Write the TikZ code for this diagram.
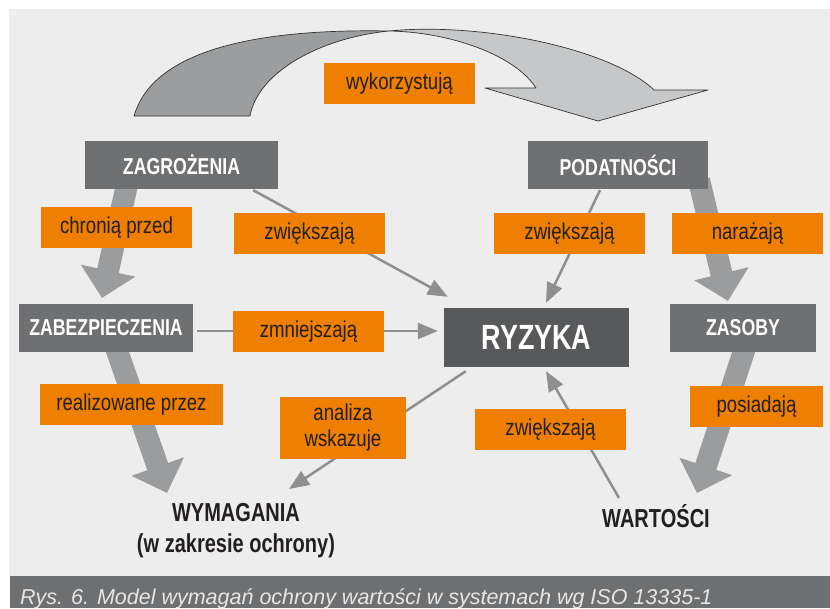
\documentclass[tikz,border=0pt]{standalone}
\usepackage{fontspec}
\setmainfont{Liberation Sans}
\newfontfamily\labelfont{Liberation Sans}[FakeStretch=0.81]
\newfontfamily\boxfont{Liberation Sans}[FakeStretch=0.77]
\usetikzlibrary{arrows.meta}
\definecolor{panel}{HTML}{ECEDEC}
\definecolor{capbar}{HTML}{6E6F71}
\definecolor{captext}{HTML}{E6E6E6}
\definecolor{boxgray}{HTML}{6F7072}
\definecolor{riskgray}{HTML}{58595B}
\definecolor{orangelbl}{HTML}{EE7F00}
\definecolor{darkband}{HTML}{9C9D9F}
\definecolor{lightband}{HTML}{C6C7C8}
\definecolor{thickgray}{HTML}{9B9C9E}
\definecolor{thingray}{HTML}{8E8F91}
\definecolor{ink}{HTML}{231F20}
\tikzset{
  entity/.style={fill=boxgray, text=white, inner sep=0pt,
    font=\boxfont\bfseries\fontsize{23}{28}\selectfont},
  verb/.style={fill=orangelbl, text=ink, inner sep=0pt, align=center,
    minimum height=41pt, font=\labelfont\fontsize{23}{26}\selectfont},
  plain/.style={text=ink, inner sep=0pt, align=center,
    font=\boxfont\bfseries\fontsize{26}{31}\selectfont},
  thickarrow/.style={draw=thickgray, line width=22pt,
    -{Triangle[length=28pt,width=54pt]}},
  thinarrow/.style={draw=thingray, line width=2.5pt,
    -{Triangle[length=20pt,width=16pt]}},
  band/.style={draw=black!80, line width=0.7pt, line join=round}
}
\begin{document}
\begin{tikzpicture}[x=1pt,y=-1pt]
\useasboundingbox (0,0) rectangle (830,608);
\fill[white] (0,0) rectangle (830,608);
\fill[panel] (9,9) rectangle (830,576);

% curved "wykorzystuja" arrow: dark rising half, light falling half with head
\filldraw[band, fill=darkband]
  (134,116) .. controls (150,60) and (230,28) .. (389,31)
  .. controls (320,38) and (258,72) .. (250,116) -- cycle;
\filldraw[band, fill=lightband]
  (389,31) .. controls (480,22) and (610,48) .. (654,90)
  -- (708,90) -- (598,121) -- (485,88) -- (536,88)
  .. controls (515,55) and (450,32) .. (389,31) -- cycle;

% nodes
\node[entity, minimum width=193pt, minimum height=48pt] (zag) at (181.5,165) {ZAGROŻENIA};
\node[entity, minimum width=180pt, minimum height=48pt] (pod) at (618,165) {PODATNOŚCI};
\node[entity, minimum width=174pt, minimum height=48pt] (zab) at (106,328) {ZABEZPIECZENIA};
\node[entity, fill=riskgray, minimum width=185pt, minimum height=59pt,
      font=\boxfont\bfseries\fontsize{35}{40}\selectfont] (ryz) at (536.5,337.5) {RYZYKA};
\node[entity, minimum width=146pt, minimum height=48pt] (zas) at (743,328) {ZASOBY};
\node[plain] (wym) at (236,531) {WYMAGANIA\\(w zakresie ochrony)};
\node[plain, anchor=base] (war) at (656,527) {WARTOŚCI};

% connector end points
\coordinate (zagout) at (128,180);
\coordinate (zabin) at (102,298);
\coordinate (zabout) at (115,345);
\coordinate (wymin) at (167,493);
\coordinate (podout) at (699,180);
\coordinate (zasin) at (728,301);
\coordinate (zasout) at (746,345);
\coordinate (warin) at (697,493);
\coordinate (wymtip) at (289,489);
\coordinate (warout) at (619,498);

% thick flows
\draw[thickarrow] (zagout) -- (zabin);
\draw[thickarrow] (zabout) -- (wymin);
\draw[thickarrow] (podout) -- (zasin);
\draw[thickarrow] (zasout) -- (warin);

% thin influences
\draw[thinarrow] ([xshift=-25pt,yshift=-1pt]zag.south east) -- ([xshift=4pt,yshift=11pt]ryz.north west);
\draw[thinarrow] ([xshift=-18pt,yshift=-1pt]pod.south) -- ([xshift=9.5pt,yshift=5pt]ryz.north);
\draw[thinarrow] ([xshift=4pt,yshift=-3pt]zab.east) -- ([xshift=-6pt,yshift=6.5pt]ryz.west);
\draw[thinarrow] ([xshift=22pt,yshift=-4pt]ryz.south west) -- (wymtip);
\draw[thinarrow] (warout) -- ([xshift=9.5pt,yshift=-4pt]ryz.south);

% boxes drawn again above the flows
\node[entity, minimum width=193pt, minimum height=48pt] at (zag) {ZAGROŻENIA};
\node[entity, minimum width=180pt, minimum height=48pt] at (pod) {PODATNOŚCI};
\node[entity, minimum width=174pt, minimum height=48pt] at (zab) {ZABEZPIECZENIA};
\node[entity, minimum width=146pt, minimum height=48pt] at (zas) {ZASOBY};

% relation labels
\node[verb, minimum width=151pt] (l1) at (399.5,83.5) {wykorzystują};
\node[verb, minimum width=151pt] (l2) at (116.5,227.5) {chronią przed};
\node[verb, minimum width=151pt] (l3) at (309.5,233.5) {zwiększają};
\node[verb, minimum width=151pt] (l4) at (569.5,233.5) {zwiększają};
\node[verb, minimum width=151pt] (l5) at (747.5,233.5) {narażają};
\node[verb, minimum width=151pt] (l6) at (308.5,331.5) {zmniejszają};
\node[verb, minimum width=183pt] (l7) at (131.5,404.5) {realizowane przez};
\node[verb, minimum width=126pt, minimum height=62pt] (l8) at (343,428) {analiza\\wskazuje};
\node[verb, minimum width=151pt] (l9) at (550.5,429.5) {zwiększają};
\node[verb, minimum width=133pt] (l10) at (756.5,406.5) {posiadają};

% caption bar
\fill[capbar] (10,576) rectangle (830,608);
\node[anchor=base west, inner sep=0pt, text=captext,
      font=\itshape\fontsize{21.5}{26}\selectfont] (cap) at (20,604)
  {Rys. 6. Model wymagań ochrony wartości w systemach wg ISO 13335-1};
\end{tikzpicture}
\end{document}
